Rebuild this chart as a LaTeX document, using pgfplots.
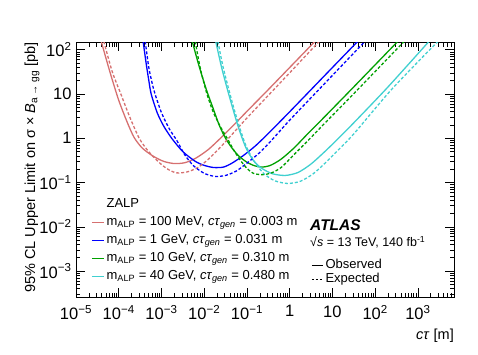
\documentclass[border=0pt]{standalone}
\usepackage{fontspec}
\setmainfont{Liberation Sans}
\usepackage{pgfplots}
\pgfplotsset{compat=1.18}

\definecolor{cred}{RGB}{214,112,112}
\definecolor{cblue}{RGB}{0,0,255}
\definecolor{cgreen}{RGB}{0,160,0}
\definecolor{ccyan}{RGB}{64,208,208}

\newcommand{\tl}[1]{10\textsuperscript{#1}}

\begin{document}
\begin{tikzpicture}
\useasboundingbox (0,0) rectangle (478pt,354pt);
\begin{axis}[
  at={(76pt,57pt)}, anchor=south west,
  scale only axis, width=378pt, height=255pt,
  xmode=log, ymode=log,
  xmin=1e-5, xmax=7e3, ymin=2.6e-4, ymax=150,
  axis line style={line width=0.8pt},
  tick align=inside, xtick pos=both, ytick pos=both,
  major tick length=9pt, minor tick length=4.5pt,
  every tick/.style={black, line width=0.6pt},
  xtick={1e-5,1e-4,1e-3,1e-2,1e-1,1,10,100,1000},
  xticklabels={\tl{−5},\tl{−4},\tl{−3},\tl{−2},\tl{−1},1,10,\tl{2},\tl{3}},
  minor xtick={2e-5,3e-5,4e-5,5e-5,6e-5,7e-5,8e-5,9e-5,
    2e-4,3e-4,4e-4,5e-4,6e-4,7e-4,8e-4,9e-4,
    2e-3,3e-3,4e-3,5e-3,6e-3,7e-3,8e-3,9e-3,
    2e-2,3e-2,4e-2,5e-2,6e-2,7e-2,8e-2,9e-2,
    0.2,0.3,0.4,0.5,0.6,0.7,0.8,0.9,
    2,3,4,5,6,7,8,9,
    20,30,40,50,60,70,80,90,
    200,300,400,500,600,700,800,900,
    2000,3000,4000,5000,6000},
  ytick={1e-3,1e-2,1e-1,1,10,100},
  yticklabels={\tl{−3},\tl{−2},\tl{−1},1,10,\tl{2}},
  minor ytick={3e-4,4e-4,5e-4,6e-4,7e-4,8e-4,9e-4,
    2e-3,3e-3,4e-3,5e-3,6e-3,7e-3,8e-3,9e-3,
    2e-2,3e-2,4e-2,5e-2,6e-2,7e-2,8e-2,9e-2,
    0.2,0.3,0.4,0.5,0.6,0.7,0.8,0.9,
    2,3,4,5,6,7,8,9,
    20,30,40,50,60,70,80,90},
  tick label style={font=\fontsize{16.5}{19}\selectfont},
  xticklabel style={yshift=-5pt},
  yticklabel style={xshift=-1pt},
  every axis plot/.append style={line width=1.3pt, smooth, tension=0.45},
  legend image code/.code={\draw[#1, line width=1.3pt] (0pt,0pt) -- (12pt,0pt);},
  legend cell align=left,
  legend style={draw=none, fill=none, at={(0.04,0.388)}, anchor=north west,
    inner sep=0pt, row sep=5.5pt, font=\fontsize{13}{15}\selectfont,
    nodes={inner xsep=2pt, inner ysep=0pt, text height=9.5pt, text depth=3pt}},
]
\addlegendimage{empty legend}
\addlegendentry{ZALP}

% red 100 MeV observed
\addplot[cred] coordinates {
(3.89e-5,155) (6.31e-5,30.2) (1e-4,7.24) (1.585e-4,2.29) (2.29e-4,1.047)
(3.55e-4,0.603) (6.31e-4,0.398) (1.122e-3,0.302) (2.0e-3,0.269) (3.55e-3,0.282)
(6.31e-3,0.355) (1.259e-2,0.562) (2.51e-2,1.047) (5.01e-2,2.04) (0.1,4.07)
(0.316,12.6) (1,39.8) (3.98,158)};
\addlegendentry{m\textsubscript{ALP} = 100 MeV, \textit{cτ}\textsubscript{\textit{gen}} = 0.003 m}
% blue 1 GeV observed
\addplot[cblue] coordinates {
(3.72e-4,155) (4.37e-4,50.1) (5.01e-4,21.4) (5.75e-4,10) (7.94e-4,3.80)
(1.122e-3,1.905) (1.738e-3,1) (3.16e-3,0.501) (6.17e-3,0.302) (1e-2,0.245)
(1.66e-2,0.219) (2.82e-2,0.224) (4.47e-2,0.275) (7.94e-2,0.398) (0.158,0.676)
(0.316,1.288) (1,3.98) (6.31,25.1) (39.8,158)};
\addlegendentry{m\textsubscript{ALP} = 1 GeV, \textit{cτ}\textsubscript{\textit{gen}} = 0.031 m}
% green 10 GeV observed
\addplot[cgreen] coordinates {
(5.25e-3,155) (7.59e-3,42.7) (1.122e-2,12.6) (1.585e-2,5.01) (2.24e-2,2.0)
(3.16e-2,1) (4.47e-2,0.603) (6.46e-2,0.398) (0.1,0.288) (0.151,0.240)
(0.224,0.224) (0.355,0.245) (0.631,0.339) (1.259,0.603) (2.51,1.202)
(6.31,2.95) (31.6,14.5) (339,155)};
\addlegendentry{m\textsubscript{ALP} = 10 GeV, \textit{cτ}\textsubscript{\textit{gen}} = 0.310 m}
% cyan 40 GeV observed
\addplot[ccyan] coordinates {
(1.862e-2,155) (2.51e-2,42.7) (3.39e-2,14.1) (4.52e-2,5.25) (6.31e-2,1.778)
(9.33e-2,0.631) (0.141,0.316) (0.224,0.209) (0.398,0.158) (0.794,0.145)
(1.585,0.170) (3.16,0.263) (6.31,0.479) (12.6,0.912) (31.6,2.24)
(200,14.5) (1820,155)};
\addlegendentry{m\textsubscript{ALP} = 40 GeV, \textit{cτ}\textsubscript{\textit{gen}} = 0.480 m}

% expected
\addplot[cred, dash pattern=on 3pt off 2pt, forget plot] coordinates {
(4.47e-5,155) (7.08e-5,31.6) (1.122e-4,10) (1.778e-4,3.16) (3.02e-4,1)
(5.01e-4,0.501) (8.91e-4,0.282) (1.413e-3,0.200) (2.24e-3,0.166) (3.98e-3,0.174)
(7.08e-3,0.219) (1.259e-2,0.339) (2.51e-2,0.661) (5.01e-2,1.38) (0.1,2.88)
(0.316,9.33) (1,30.2) (5.01,158)};
\addplot[cblue, dash pattern=on 3pt off 2pt, forget plot] coordinates {
(4.17e-4,155) (5.01e-4,41.7) (6.03e-4,17.8) (7.08e-4,10) (1e-3,3.80)
(1.514e-3,1.66) (2.29e-3,0.891) (3.55e-3,0.417) (5.62e-3,0.240) (1e-2,0.162)
(1.778e-2,0.138) (3.16e-2,0.145) (5.62e-2,0.182) (0.1,0.275) (0.2,0.479)
(0.398,0.955) (1,2.57) (7.94,20.9) (58.9,158)};
\addplot[cgreen, dash pattern=on 3pt off 2pt, forget plot] coordinates {
(6.17e-3,155) (7.94e-3,41.7) (1.122e-2,11.2) (1.585e-2,4.17) (2.40e-2,1.82)
(3.55e-2,0.955) (5.01e-2,0.525) (7.08e-2,0.316) (0.1,0.209) (0.141,0.162)
(0.224,0.151) (0.355,0.162) (0.631,0.219) (1.259,0.427) (2.51,0.832)
(6.31,2.09) (31.6,10.2) (479,155)};
\addplot[ccyan, dash pattern=on 3pt off 2pt, forget plot] coordinates {
(2.09e-2,155) (2.75e-2,41.7) (3.72e-2,13.2) (5.01e-2,4.57) (7.08e-2,1.514)
(0.1,0.603) (0.158,0.275) (0.251,0.158) (0.447,0.110) (0.891,0.0955)
(1.778,0.107) (3.55,0.158) (7.08,0.288) (14.1,0.562) (31.6,1.259)
(251,13.2) (2950,155)};
\end{axis}

\begin{axis}[
  at={(76pt,57pt)}, anchor=south west,
  scale only axis, width=378pt, height=255pt,
  hide axis, xmin=0, xmax=1, ymin=0, ymax=1,
  legend image code/.code={\draw[#1, line width=1.2pt] (0pt,0pt) -- (11pt,0pt);},
  legend cell align=left,
  legend style={draw=none, fill=none, at={(0.622,0.149)}, anchor=north west,
    inner sep=0pt, row sep=1.5pt, font=\fontsize{13}{15}\selectfont,
    nodes={inner xsep=2pt, inner ysep=0pt, text height=9.5pt, text depth=3pt}},
]
\addlegendimage{black, solid}
\addlegendentry{Observed}
\addlegendimage{black, dash pattern=on 2.5pt off 1.5pt}
\addlegendentry{Expected}
\end{axis}

\node[anchor=west, inner sep=0pt] at (310pt,129pt) {\fontsize{15.5}{18}\selectfont\bfseries\itshape ATLAS};
\node[anchor=west, inner sep=0pt] at (310pt,112pt) {\fontsize{12.5}{15}\selectfont √\textit{s} = 13 TeV, 140 fb\textsuperscript{-1}};
\node[rotate=90, anchor=east, inner sep=0pt] at (32pt,312pt) {\fontsize{14.5}{17}\selectfont 95\% CL Upper Limit on σ × \textit{B}\textsubscript{a → gg} [pb]};
\node[anchor=east, inner sep=0pt] at (454pt,18pt) {\fontsize{14.5}{17}\selectfont \textit{cτ} [m]};
\end{tikzpicture}
\end{document}
